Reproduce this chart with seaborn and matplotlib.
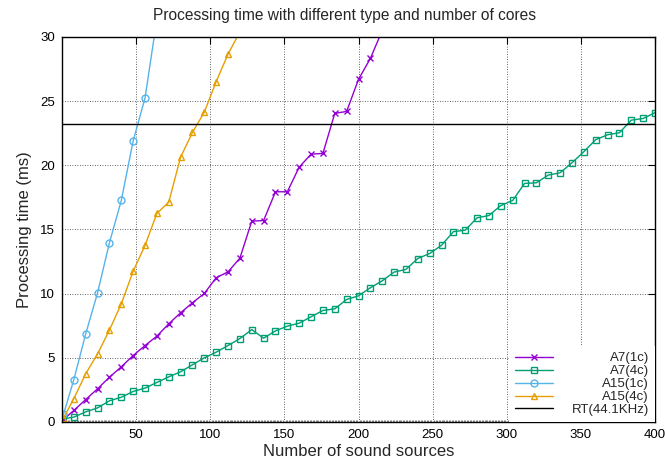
import matplotlib
matplotlib.use("Agg")
import matplotlib.pyplot as plt
import seaborn as sns
import pandas as pd
from matplotlib.ticker import MultipleLocator

sns.set_theme(style="white")
plt.rcParams['font.family'] = ['Liberation Sans', 'DejaVu Sans']

# ---- data ----
x_a7_1c = [1, 8, 16, 24, 32, 40, 48, 56, 64, 72, 80, 88, 96, 104, 112, 120, 128, 136,
           144, 152, 160, 168, 176, 184, 192, 200, 208, 216]
y_a7_1c = [0.2, 0.9, 1.75, 2.59, 3.49, 4.3, 5.18, 5.96, 6.69, 7.65, 8.51, 9.29, 10.02,
           11.24, 11.7, 12.77, 15.65, 15.7, 17.94, 17.94, 19.86, 20.87, 20.93, 24.05,
           24.2, 26.7, 28.33, 30.5]

x_a7_4c = [1, 8, 16, 24, 32, 40, 48, 56, 64, 72, 80, 88, 96, 104, 112, 120, 128, 136,
           144, 152, 160, 168, 176, 184, 192, 200, 208, 216, 224, 232, 240, 248, 256,
           264, 272, 280, 288, 296, 304, 312, 320, 328, 336, 344, 352, 360, 368, 376,
           384, 392, 400]
y_a7_4c = [0.25, 0.38, 0.79, 1.1, 1.65, 1.93, 2.38, 2.64, 3.08, 3.52, 3.91, 4.46, 5.0,
           5.44, 5.96, 6.5, 7.2, 6.53, 7.1, 7.47, 7.7, 8.2, 8.69, 8.82, 9.55, 9.83,
           10.46, 11.0, 11.68, 11.89, 12.74, 13.13, 13.77, 14.83, 14.95, 15.91, 16.09,
           16.87, 17.26, 18.59, 18.64, 19.24, 19.42, 20.2, 21.06, 22.0, 22.38, 22.54,
           23.52, 23.65, 24.1]

x_a15_1c = [1, 8, 16, 24, 32, 40, 48, 56, 64]
y_a15_1c = [0.6, 3.31, 6.87, 10.07, 13.97, 17.26, 21.91, 25.24, 31.4]

x_a15_4c = [1, 8, 16, 24, 32, 40, 48, 56, 64, 72, 80, 88, 96, 104, 112, 120]
y_a15_4c = [0.3, 1.83, 3.76, 5.31, 7.16, 9.21, 11.75, 13.76, 16.25, 17.13, 20.64,
            22.56, 24.15, 26.52, 28.67, 30.4]

rt_value = 23.22  # 1024 samples at 44.1 kHz

labels = ["A7(1c)", "A7(4c)", "A15(1c)", "A15(4c)", "RT(44.1KHz)"]
colors = ["#9400d3", "#009e73", "#56b4e9", "#e69f00"]
markers = ["x", "s", "o", "^"]

xticks = [50, 100, 150, 200, 250, 300, 350, 400]
yticks = [0, 5, 10, 15, 20, 25, 30]

# ---- figure ----
fig = plt.figure(figsize=(6.65, 4.65), dpi=100)
ax = fig.add_axes([62/665, 1 - 422/465, (655 - 62)/665, (422 - 37)/465])

series = [(x_a7_1c, y_a7_1c), (x_a7_4c, y_a7_4c), (x_a15_1c, y_a15_1c), (x_a15_4c, y_a15_4c)]
for (xs, ys), lab, c, m in zip(series, labels[:4], colors, markers):
    df = pd.DataFrame({"n": xs, "t": ys})
    kw = dict(marker=m, markersize=5.0, color=c, linewidth=1.0, label=lab,
              markeredgecolor=c, markeredgewidth=1.0)
    if m != "x":
        kw.update(markerfacecolor="none")
    sns.lineplot(data=df, x="n", y="t", ax=ax, **kw)

ax.axhline(rt_value, color="black", linewidth=1.0, label=labels[4])

ax.set_xlim(0, 400)
ax.set_ylim(0, 30)
ax.set_xticks(xticks)
ax.set_yticks(yticks)
ax.xaxis.set_minor_locator(MultipleLocator(1))
ax.tick_params(axis="both", which="major", direction="in", top=True, right=True,
               length=5, width=0.8, labelsize=9.5, colors="black", pad=5)
ax.tick_params(axis="x", which="minor", direction="in", bottom=True, top=False,
               length=1.5, width=0.4)
ax.grid(True, which="major", color="#333333", linestyle=(0, (1, 2)), linewidth=0.6)
for s in ax.spines.values():
    s.set_color("black")
    s.set_linewidth(1.0)

ax.set_title("Processing time with different type and number of cores", fontsize=11.2,
             pad=12, x=0.476)
ax.set_xlabel("Number of sound sources", fontsize=12, labelpad=2)
ax.set_ylabel("Processing time (ms)", fontsize=12, labelpad=6)

handles, labs = ax.get_legend_handles_labels()
leg = ax.legend(handles, labs, loc="lower right", borderaxespad=0.0, frameon=True,
                facecolor="white", edgecolor="none", framealpha=1.0, fancybox=False,
                fontsize=9.5, labelspacing=0.05, handlelength=2.9, handletextpad=1.4,
                borderpad=0.45, numpoints=1)
leg.set_zorder(5)

# right-align legend texts
fig.canvas.draw()
widths = [t.get_window_extent().width for t in leg.get_texts()]
wmax = max(widths)
for t, w in zip(leg.get_texts(), widths):
    t.set_x(wmax - w)

fig.savefig("out.png", dpi=100)
